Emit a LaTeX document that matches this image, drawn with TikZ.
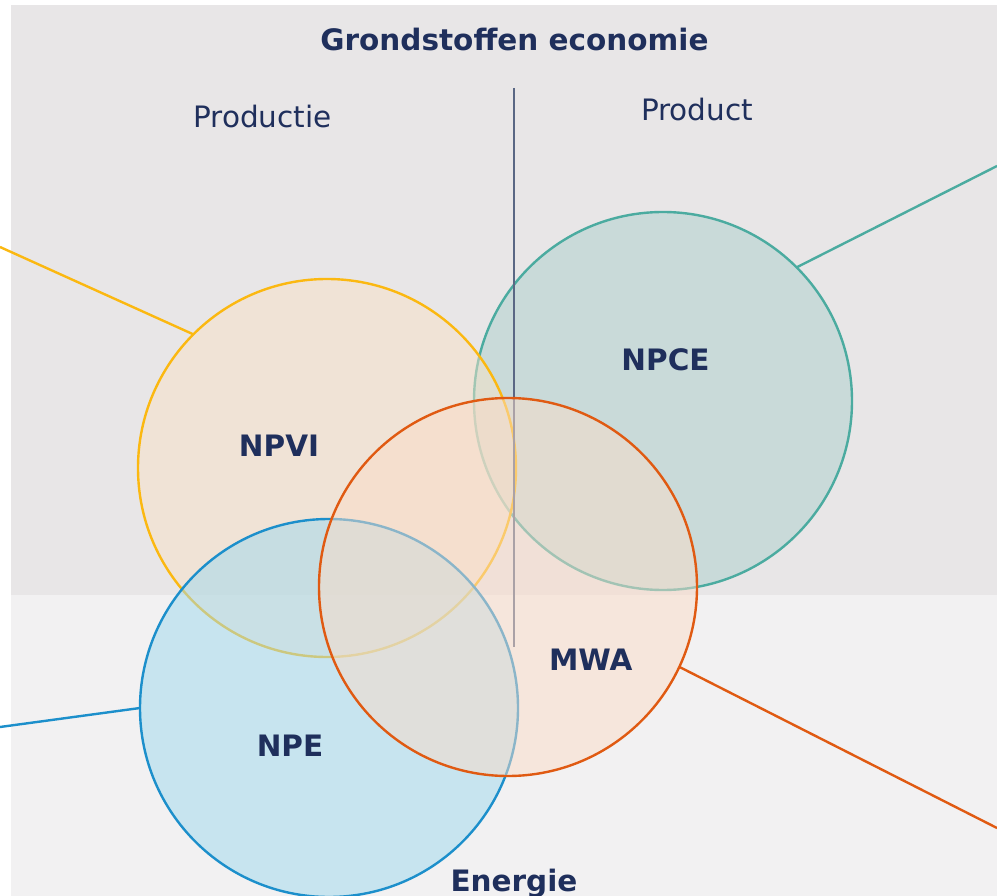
\documentclass[tikz,border=0pt]{standalone}
\usepackage{fontspec}
\setmainfont{DejaVu Sans}
\definecolor{txt}{HTML}{1F2F5C}
\definecolor{bgtop}{HTML}{E8E6E7}
\definecolor{bgbot}{HTML}{F2F1F2}
\definecolor{ystroke}{HTML}{FBB811}
\definecolor{yfill}{RGB}{248,226,199}
\definecolor{tstroke}{HTML}{4BABA0}
\definecolor{tfill}{RGB}{172,208,205}
\definecolor{ostroke}{HTML}{E05A12}
\definecolor{ofill}{RGB}{250,220,200}
\definecolor{bstroke}{HTML}{1C8FCB}
\definecolor{bfill}{RGB}{158,217,238}
\definecolor{divider}{HTML}{5A6784}
\begin{document}
\begin{tikzpicture}[x=1pt,y=-1pt,
  venn/.style={circle, minimum size=378pt, inner sep=0pt, outer sep=0pt, line width=2.4pt, fill opacity=0.5},
  conn/.style={line width=2.4pt},
  lbl/.style={anchor=base, text=txt, inner sep=0pt, font=\fontsize{29.5}{35}\selectfont\bfseries},
  sub/.style={anchor=base, text=txt, inner sep=0pt, font=\fontsize{29.5}{35}\selectfont}]
\useasboundingbox (0,0) rectangle (997,896);
\fill[bgtop] (11,5) rectangle (997,595);
\fill[bgbot] (11,595) rectangle (997,896);

\node[venn, draw=tstroke, fill=tfill] (npce) at (663,401) {};
\node[venn, draw=ystroke, fill=yfill] (npvi) at (327,468) {};
\coordinate (dtop) at (514,88);
\coordinate (dbot) at (514,647);
\draw[divider, line width=1.6pt] (dtop) -- (dbot);
\node[venn, draw=bstroke, fill=bfill] (npe) at (329,708) {};
\node[venn, draw=ostroke, fill=ofill] (mwa) at (508,587) {};

\coordinate (yl) at (0,247);
\coordinate (tl) at (997,166);
\coordinate (bl) at (0,727);
\coordinate (ol) at (997,828);
\draw[conn, ystroke] (npvi.135) -- (yl);
\draw[conn, tstroke] (npce.45) -- (tl);
\draw[conn, bstroke] (npe.180) -- (bl);
\draw[conn, ostroke] (mwa.-25) -- (ol);

\node[lbl] (title) at (514.5,50.5) {Grondstoffen economie};
\node[sub] (prod1) at (262.5,127.7) {Productie};
\node[sub] (prod2) at (697,120.7) {Product};
\node[lbl] (t1) at (279,456) {NPVI};
\node[lbl] (t2) at (665.5,370.3) {NPCE};
\node[lbl] (t3) at (590.7,670) {MWA};
\node[lbl] (t4) at (290,756) {NPE};
\node[lbl] (energie) at (514,891.7) {Energie};
\end{tikzpicture}
\end{document}
